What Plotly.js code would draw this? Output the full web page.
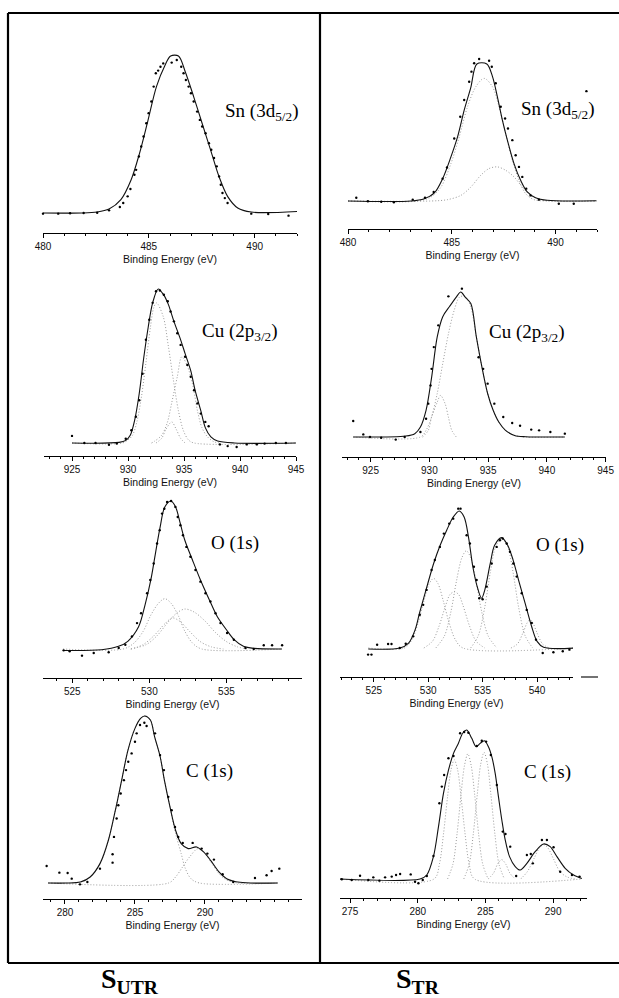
<!DOCTYPE html>
<html>
<head>
<meta charset="utf-8">
<script src="https://cdn.plot.ly/plotly-3.0.1.min.js"></script>
<style>html,body{margin:0;padding:0;background:#fff;}#chart{width:619px;height:998px;}</style>
</head>
<body>
<div id="chart"></div>
<script>
// ---------------- DATA (binding energy in eV, intensity in relative units) ----------------
// Sn 3d5/2, untreated
const snU_dotsX = [480.0,480.72,481.28,481.92,482.56,483.12,483.63,483.79,484.0,484.13,484.32,484.4,484.53,484.64,484.75,484.88,484.99,485.12,485.23,485.33,485.44,485.55,485.68,486.08,486.32,486.53,486.64,486.75,486.88,486.99,487.12,487.28,487.41,487.52,487.68,487.84,487.95,488.08,488.21,488.32,488.4,488.48,488.59,488.72,489.84,490.64,491.6];
const snU_dotsY = [-0.4,-0.4,-0.2,0,0.2,1.7,3.8,6.4,10.6,15.3,24.4,27.5,36,42.4,48.7,57.2,63.6,71,80.5,89,90.7,93.2,95.3,95.8,97.5,93.2,89,84.7,80.5,76.3,71,64.6,59.3,55.1,50.8,44.5,40.3,35,29.7,23.3,18,12.7,9.5,6.4,-0.4,-0.6,-1.7];
const snU_fitX = [480.0,481.84,482.56,483.12,483.68,484.16,484.56,484.96,485.36,485.76,486.03,486.4,486.72,487.12,487.52,487.92,488.32,488.72,489.2,489.84,492.0];
const snU_fitY = [0,0,0.6,2.5,8.5,21,38,59,80.5,94,100,100,90,74,57,40,23,10.6,3.2,0.6,1];

// Sn 3d5/2, treated
const snT_dotsX = [480.4,480.96,481.6,482.21,483.12,483.71,484.13,484.56,484.77,485.12,485.41,485.6,485.84,485.95,486.08,486.32,486.8,486.93,487.12,487.36,487.57,487.71,487.92,488.08,488.24,488.4,488.59,488.8,489.2,490.16,490.88,491.49];
const snT_dotsY = [2.4,-0.2,-0.5,-1,1,2.4,6.6,16.3,24.4,45.6,61.5,73.7,87,94.4,100.5,103.7,102.4,98,85.9,68.8,60.2,52.9,44.4,33.4,24.9,17.6,9,4.1,1,-2,-2,80.2];
const snT_fitX = [480,483.04,483.68,484.16,484.56,484.96,485.28,485.6,485.92,486.21,486.69,486.96,487.2,487.44,487.68,488.0,488.32,488.64,489.04,489.6,491.97];
const snT_fitY = [0,0,1.7,5.9,16.3,32.2,46.8,66.3,83,100,100,91,76,59,44.4,27.3,15.1,6.6,2.4,0.5,0.2];
const snT_c1X = [480,483.36,484.0,484.48,484.96,485.36,485.76,486.16,486.56,486.96,487.28,487.6,487.92,488.24,488.56,488.96,489.6,492];
const snT_c1Y = [0,0,2.9,10.2,27.3,46.8,68.8,83.4,89.5,83.4,68.8,49.3,29.8,15.1,5.4,1,0,0];
const snT_c2X = [480,484.0,484.8,485.44,485.92,486.4,486.8,487.2,487.6,488.0,488.4,488.8,489.28,489.92,492];
const snT_c2Y = [0,0,1,4.1,10.2,18.8,23.7,24.9,22.4,17.6,10.2,4.1,1,0,0];

// Cu 2p3/2, untreated
const cuU_dotsX = [925.0,926.1,927.1,928.3,929.0,929.8,930.3,930.7,931.0,931.3,931.6,931.9,932.2,932.5,932.85,933.2,933.55,933.8,934.1,934.4,934.7,935.1,935.3,935.6,935.9,936.2,936.5,936.9,937.2,938.2,938.9,939.7,940.6,941.5,942.2,943.2,944.1];
const cuU_dotsY = [4.6,0,0,-1.1,-0.4,2.8,8.3,17,27.8,45,67,80,91,98.5,99,96.3,92,85.4,79,71.3,63.7,56,50.7,43,34.3,25.7,19.1,13.7,10.9,-0.9,-2,-2.6,-0.9,-0.9,-0.4,0,0];
const cuU_fitX = [925.0,929.2,929.8,930.2,930.6,931.0,931.4,931.8,932.2,932.7,933.2,933.6,934.1,934.7,935.1,935.6,936.0,936.5,936.9,937.4,938.0,939.5,945.0];
const cuU_fitY = [0,0.4,1.7,5,15,32,55,75,91,100,96,90,79,67,58,47,34,21,10,4,1.3,0,0];
const cuU_c1X = [925.0,929.5,930.0,930.4,930.8,931.2,931.6,932.0,932.3,932.55,933.15,933.6,934.05,934.5,934.95,935.4,935.9,945.0];
const cuU_c1Y = [0,0,2,5,14,30,52,75,88,91,82,63,41,21,8,2,0,0];
const cuU_c2X = [932.1,932.4,933.0,933.5,933.9,934.4,934.8,935.3,935.8,936.2,936.6,937.1,937.7,938.3];
const cuU_c2Y = [0,1.3,5,13,26,43,56,50,37,21,10,4,0.7,0];
const cuU_c3X = [932.5,933.0,933.4,933.9,934.3,934.7,935.1];
const cuU_c3Y = [0,3,9,13.7,9,3,0];

// Cu 2p3/2, treated
const cuT_dotsX = [923.52,924.38,924.95,925.90,927.14,927.90,929.24,929.72,929.91,930.10,930.19,930.38,930.76,931.62,932.77,934.19,934.58,934.96,935.53,936.29,937.05,937.72,938.67,939.34,940.30,941.53];
const cuT_dotsY = [11,1.8,0,-0.5,-1.8,0,3.4,12.6,23,35.6,47,62,77,97,102.3,55,47,36.8,23,13.8,9.7,7.8,5.1,4.6,3.4,2.3];
const cuT_fitX = [923.52,928.00,928.76,929.24,929.72,930.19,930.67,931.14,931.72,932.29,932.67,933.05,933.53,934.00,934.48,934.96,935.43,935.91,936.48,937.25,938.20,941.53];
const cuT_fitY = [0,0.7,2.3,6.9,18.4,41,69,83,90,96.5,100,96.5,92,69,48,30,18.4,10.3,4.6,1.1,0.2,0];
const cuT_c1X = [923.52,929.24,929.72,930.19,930.67,931.14,931.62,932.10,932.57,933.05,933.53,934.00,934.48,934.96,935.43,935.91,936.48,937.25,938.20,941.53];
const cuT_c1Y = [0,0,4.6,13.8,30,50.6,71,87,96.5,97,89.7,69,48,30,18.4,10.3,4.6,1.1,0,0];
const cuT_c2X = [929.43,929.91,930.19,930.67,930.95,931.34,931.62,931.91,932.29];
const cuT_c2Y = [0,4.6,13.8,24,28.7,23,13.8,4.6,0];

// O 1s, untreated
const oU_dotsX = [524.44,524.83,525.63,526.39,527.36,528.01,528.44,528.87,529.2,529.46,529.85,530.06,530.28,530.5,530.67,530.82,530.97,531.15,531.41,531.69,531.84,532.01,532.18,532.4,532.66,532.99,533.31,533.64,533.96,534.29,534.61,535.04,535.48,536.23,536.77,537.42,537.96,538.61];
const oU_dotsY = [-0.9,-1.6,-4.5,-2.7,-2.2,0.7,2.9,8.5,17.5,24.2,37.7,46.6,57.8,71.3,80.3,91.5,94.8,99.3,100,96,89.2,83.6,76.9,69,62.3,53.4,45.5,37.7,32.1,24.2,17.5,10.8,6.3,0.7,0,2.5,2.5,2.5];
const oU_fitX = [524.4,526.9,528.0,528.6,529.3,529.7,530.1,530.4,530.7,531.0,531.4,531.7,532.0,532.3,532.8,533.3,533.9,534.4,535.0,535.5,536.1,536.8,538.6];
const oU_fitY = [-1,-0.5,1.8,5.2,15,29,47,65,82.5,96,100,96,85,73.5,60,47,33,22,13,6.3,1.8,0.4,0];
const oU_c1X = [524.4,528.3,529.0,529.6,530.1,530.6,531.0,531.4,531.9,532.3,532.8,533.4,538.6];
const oU_c1Y = [0,0,4,12,23,31,34,31,22,12,4,0,0];
const oU_c2X = [528.8,529.8,530.5,531.2,531.8,532.3,532.9,533.6,534.3,535.0,535.7,536.4];
const oU_c2Y = [0,3,9,18,24.5,27,25,19,11,5,1.5,0];
const oU_c3X = [528.8,529.6,530.3,531.0,531.5,532.0,532.6,533.3,534.0,534.8];
const oU_c3Y = [0,3,9,17,21,18.5,12,5,1.5,0];

// O 1s, treated
const oT_dotsX = [524.48,524.79,525.31,526.32,526.63,527.39,527.94,528.62,529.23,529.54,529.85,530.31,530.61,531.07,531.44,531.93,532.3,532.76,532.97,533.53,533.83,534.2,534.45,534.69,535.0,535.37,535.83,536.29,536.59,536.84,537.21,537.51,537.82,538.13,538.59,539.05,539.51,539.9,540.52,541.5,542.36,542.97,543.49];
const oT_dotsY = [-4.8,-4.8,2.4,2.9,2.9,0,3.1,8.5,24.2,31.5,42.4,56.9,64.2,73.8,83.5,90.8,94.4,101.7,101.7,82.3,76.3,59.3,49.6,36.3,35.6,44.8,61.7,73.8,78.7,79.9,76.3,70.2,61.7,52.1,40,27.8,18.2,6.1,-3.6,-3.1,-2.4,-1.2,-1.9];
const oT_fitX = [524.5,527.4,528.2,528.8,529.2,529.8,530.5,531.1,531.7,532.3,532.85,533.3,533.7,534.1,534.5,534.9,535.2,535.7,536.1,536.75,537.3,537.8,538.3,538.9,539.5,540.0,540.6,543.5];
const oT_fitY = [-0.7,0,3.6,13.3,25.4,42.4,61.7,75,86,95.6,100,95.6,81,59.3,44.8,36.3,42.4,61.7,75,80.6,75,64.2,49.6,32.7,15.7,4.8,0.5,0];
const oT_c1X = [524.5,527.8,528.5,529.1,529.6,530.1,530.5,530.9,531.4,531.9,532.5,533.2,543.5];
const oT_c1Y = [0,0,6,19,34,47,50.8,47,34,19,6,0,0];
const oT_c2X = [529.6,530.4,531.0,531.6,532.0,532.4,532.8,533.2,533.8,534.4,535.2];
const oT_c2Y = [0,5,16,31,39,41,39,31,16,5,0];
const oT_c3X = [530.7,531.5,532.1,532.6,533.1,533.5,533.9,534.4,534.9,535.5,536.3];
const oT_c3Y = [0,9,27,49,66,71,66,49,27,9,0];
const oT_c4X = [533.9,534.6,535.2,535.7,536.2,536.75,537.3,537.8,538.3,538.9,539.6];
const oT_c4Y = [0,9,30,55,74,80,74,55,30,9,0];
const oT_c5X = [537.6,538.2,538.7,539.1,539.35,539.6,540.0,540.5,541.1];
const oT_c5Y = [0,3,11,18.5,20.6,18.5,11,3,0];

// C 1s, untreated
const cU_dotsX = [278.69,279.6,280.19,280.48,281.07,281.6,282.5,283.4,283.4,283.5,283.69,283.81,283.98,284.21,284.36,284.52,284.76,285.0,285.12,285.36,285.67,285.83,286.43,286.79,287.07,287.38,287.62,287.86,288.09,288.41,289.12,289.76,290.17,290.64,291.26,292.02,293.57,294.4,294.76,295.31];
const cU_dotsY = [10.2,6.2,6,2.6,-0.8,0.6,8.6,17.2,12.2,27.6,38.6,46.6,53.6,61.6,67.6,72.6,77.6,84.6,89.6,94.6,96,94,89.6,76.6,67.6,51.6,43.6,33.6,27.6,24,24,20.6,17.6,14,5.2,0.6,3,4.6,7.2,8.6];
const cU_fitX = [278.8,280.1,281.1,281.8,282.5,283.1,283.6,284.05,284.5,285.0,285.4,285.7,286.1,286.4,286.8,287.1,287.5,287.9,288.3,288.8,289.4,289.9,290.4,291.0,291.55,292.5,295.2];
const cU_fitY = [0,0,0.6,3.6,11.6,25.6,43.6,61.6,79.6,92.6,98.6,100,97.6,87.6,75.6,61.6,45.6,31.6,23.6,20.6,21.6,18.6,13.6,6.6,2.6,0.4,0];
const cU_c1X = [278.8,281.1,281.8,282.5,283.1,283.6,284.05,284.5,285.0,285.4,285.7,286.1,286.4,286.8,287.1,287.5,287.9,288.3,288.6,289.0,289.6,295.2];
const cU_c1Y = [0,0.6,3.6,11.6,25.6,43.6,61.6,79.6,92.6,98.6,100,97.6,87.6,75.6,61.6,45.6,29.6,17.6,8.6,2.6,0,0];
const cU_c2X = [278.8,287.4,287.9,288.4,288.9,289.5,290.0,290.5,291.0,291.5,292.3,295.2];
const cU_c2Y = [0,0,3.6,9.6,15.6,20.6,17.6,11.6,5.6,2,0,0];

// C 1s, treated
const cT_dotsX = [274.39,275.12,275.74,276.35,276.72,277.17,277.59,278.08,278.4,278.7,279.48,279.8,280.05,280.37,280.67,281.16,281.6,281.78,281.95,282.27,282.64,283.13,283.43,283.74,284.36,284.73,285.05,285.4,285.84,286.28,286.48,286.83,287.27,288.06,288.35,288.5,289.17,289.54,290.03,290.52,291.39,291.95];
const cT_dotsY = [-0.2,-0.7,2.2,-0.7,1.1,-1.1,1.1,1.6,2.7,3.4,3.1,-1.8,-2.9,-0.7,2,15.4,50.8,62,69.8,81,82.6,97.8,98.7,98.2,89.3,92.8,92.2,83.2,63.1,31.8,30.2,21.7,2,16.1,16.8,10.5,26.2,26.2,21.3,4.9,2.7,1.6];
const cT_fitX = [274.26,280.17,280.67,281.16,281.53,281.9,282.27,282.64,283.0,283.33,283.62,283.99,284.31,284.61,284.93,285.22,285.47,285.72,285.96,286.21,286.46,286.78,287.2,287.56,288.06,288.67,289.29,289.78,290.28,290.89,291.51,292.12];
const cT_fitY = [0,0,2.7,15,35,57.5,73,84.3,91,98,100,94.4,88.8,91,92.8,88.8,82.1,70.9,55.3,39.6,26.2,15,8.3,6,10.5,18.3,23.5,21.7,15,7.2,2.7,0.4];
const cT_c1X = [274.26,281.2,281.6,281.9,282.2,282.45,282.7,282.95,283.2,283.5,283.8,284.2,292.12];
const cT_c1Y = [0,0,10,30,55,73,80,73,55,30,10,0,0];
const cT_c2X = [282.2,282.6,282.9,283.2,283.45,283.7,283.95,284.2,284.5,284.8,285.2];
const cT_c2Y = [0,10,30,57,76,84,76,57,30,10,0];
const cT_c3X = [283.4,283.8,284.1,284.4,284.65,284.9,285.15,285.4,285.7,286.0,286.4];
const cT_c3Y = [0,10,30,57,77,85,77,57,30,10,0];
const cT_c4X = [285.2,285.6,285.9,286.2,286.5,286.8,287.2];
const cT_c4Y = [0,4,10,13,10,4,0];
const cT_c5X = [287.6,288.1,288.6,289.0,289.3,289.6,290.0,290.5,291.0,291.6];
const cT_c5Y = [0,5,14,21,23,21,14,5,1.5,0];

// Tick labels shown on the untreated C 1s axis
const cU_tickVals = [280, 285, 290];

// Text
const panelLabels = ['Sn (3d<sub>5/2</sub>)','Sn (3d<sub>5/2</sub>)','Cu (2p<sub>3/2</sub>)','Cu (2p<sub>3/2</sub>)','O (1s)','O (1s)','C (1s)','C (1s)'];
const axisTitle = 'Binding Energy (eV)';
const sampleLabels = ['<b>S<sub>UTR</sub></b>','<b>S<sub>TR</sub></b>'];

// ---------------- LAYOUT (pixel geometry of each panel) ----------------
const W = 619, H = 998;
const geom = [
  {xpx:[43,297],      xr:[480,492],        axisY:233, baseY:213, peakY:56,  lx:261, ly:112},
  {xpx:[348,597],     xr:[480,492],        axisY:229, baseY:201, peakY:64,  lx:557, ly:110},
  {xpx:[44,296],      xr:[922.5,945],      axisY:456, baseY:443, peakY:289, lx:240, ly:332},
  {xpx:[342.4,605.6], xr:[922.6,945],      axisY:457, baseY:437, peakY:292, lx:527, ly:333},
  {xpx:[43,302],      xr:[523.1,539.9],    axisY:678, baseY:649, peakY:501, lx:235, ly:543},
  {xpx:[340,573],     xr:[521.9,543.3],    axisY:677, baseY:648, peakY:511, lx:560, ly:545},
  {xpx:[43,302],      xr:[278.43,296.93],  axisY:899, baseY:883, peakY:716, lx:210, ly:771, tickvals:cU_tickVals},
  {xpx:[340,587],     xr:[274.26,292.5],   axisY:898, baseY:879, peakY:730, lx:547, ly:772}
];

const series = [
  {d:[snU_dotsX,snU_dotsY], f:[snU_fitX,snU_fitY], c:[]},
  {d:[snT_dotsX,snT_dotsY], f:[snT_fitX,snT_fitY], c:[[snT_c1X,snT_c1Y],[snT_c2X,snT_c2Y]]},
  {d:[cuU_dotsX,cuU_dotsY], f:[cuU_fitX,cuU_fitY], c:[[cuU_c1X,cuU_c1Y],[cuU_c2X,cuU_c2Y],[cuU_c3X,cuU_c3Y]]},
  {d:[cuT_dotsX,cuT_dotsY], f:[cuT_fitX,cuT_fitY], c:[[cuT_c1X,cuT_c1Y],[cuT_c2X,cuT_c2Y]]},
  {d:[oU_dotsX,oU_dotsY], f:[oU_fitX,oU_fitY], c:[[oU_c1X,oU_c1Y],[oU_c2X,oU_c2Y],[oU_c3X,oU_c3Y]]},
  {d:[oT_dotsX,oT_dotsY], f:[oT_fitX,oT_fitY], c:[[oT_c1X,oT_c1Y],[oT_c2X,oT_c2Y],[oT_c3X,oT_c3Y],[oT_c4X,oT_c4Y],[oT_c5X,oT_c5Y]]},
  {d:[cU_dotsX,cU_dotsY], f:[cU_fitX,cU_fitY], c:[[cU_c1X,cU_c1Y],[cU_c2X,cU_c2Y]]},
  {d:[cT_dotsX,cT_dotsY], f:[cT_fitX,cT_fitY], c:[[cT_c1X,cT_c1Y],[cT_c2X,cT_c2Y],[cT_c3X,cT_c3Y],[cT_c4X,cT_c4Y],[cT_c5X,cT_c5Y]]}
];

const traces = [];
const layout = {
  width: W, height: H,
  margin: {l:0, r:0, t:0, b:0},
  paper_bgcolor: '#fff', plot_bgcolor: 'rgba(0,0,0,0)',
  showlegend: false,
  font: {family: 'Liberation Sans, Arial, sans-serif', color: '#000'},
  annotations: [], shapes: []
};

geom.forEach((g, i) => {
  const n = i + 1;
  const xa = 'x' + (n === 1 ? '' : n), ya = 'y' + (n === 1 ? '' : n);
  const s = series[i];
  s.c.forEach(c => traces.push({x:c[0], y:c[1], xaxis:xa, yaxis:ya, mode:'lines', type:'scatter',
    line:{color:'#9a9a9a', width:1, dash:'1px,2px', shape:'spline', smoothing:0.9}, hoverinfo:'skip', cliponaxis:false}));
  traces.push({x:s.f[0], y:s.f[1], xaxis:xa, yaxis:ya, mode:'lines', type:'scatter',
    line:{color:'#111', width:1.1, shape:'spline', smoothing:0.9}, hoverinfo:'skip', cliponaxis:false});
  traces.push({x:s.d[0], y:s.d[1], xaxis:xa, yaxis:ya, mode:'markers', type:'scatter',
    marker:{color:'#000', size:2.4}, cliponaxis:false, hoverinfo:'skip'});

  const sc = (g.baseY - g.peakY) / 100;
  const ymin = -(g.axisY - g.baseY) / sc;
  const topPx = g.peakY - 14;
  const ymax = 100 + 14 / sc;
  const xaxis = {
    domain: [g.xpx[0] / W, g.xpx[1] / W], range: g.xr, anchor: ya,
    showline: true, linecolor: '#000', linewidth: 1.1, mirror: false,
    ticks: 'outside', ticklen: 4, tickwidth: 1, tickcolor: '#000',
    tick0: 0, dtick: 5, showgrid: false, zeroline: false,
    minor: {dtick: 1, ticks: 'outside', ticklen: 2, tickcolor: '#000', showgrid: false},
    tickfont: {family: 'Liberation Sans, Arial, sans-serif', size: 10, color: '#111'},
    title: {text: axisTitle, font: {family: 'Liberation Sans, Arial, sans-serif', size: 10.5, color: '#111'}, standoff: 4},
    automargin: false, fixedrange: true
  };
  if (g.tickvals) { xaxis.tickmode = 'array'; xaxis.tickvals = g.tickvals; }
  layout['xaxis' + (n === 1 ? '' : n)] = xaxis;
  layout['yaxis' + (n === 1 ? '' : n)] = {
    domain: [1 - g.axisY / H, 1 - topPx / H], range: [ymin, ymax], anchor: xa,
    visible: false, fixedrange: true
  };
  layout.annotations.push({text: panelLabels[i], xref:'paper', yref:'paper', x: g.lx / W, y: 1 - g.ly / H,
    xanchor:'center', yanchor:'middle', showarrow:false,
    font:{family:'Liberation Serif, Times New Roman, serif', size:19, color:'#000'}});
});

// sample labels
[[sampleLabels[0], 130], [sampleLabels[1], 418]].forEach(([t, x]) => {
  layout.annotations.push({text: t, xref:'paper', yref:'paper', x: x / W, y: 1 - 980 / H, xanchor:'center', yanchor:'middle',
    showarrow:false, font:{family:'Liberation Serif, Times New Roman, serif', size:28, color:'#000'}});
});

// frame
const lineSt = {color:'#000', width:2.2};
layout.shapes.push({type:'line', xref:'paper', yref:'paper', x0:8/W, x1:1.02, y0:1-13/H, y1:1-13/H, line:lineSt});
layout.shapes.push({type:'line', xref:'paper', yref:'paper', x0:8/W, x1:1.02, y0:1-963/H, y1:1-963/H, line:lineSt});
layout.shapes.push({type:'line', xref:'paper', yref:'paper', x0:8/W, x1:8/W, y0:1-13/H, y1:1-963/H, line:lineSt});
layout.shapes.push({type:'line', xref:'paper', yref:'paper', x0:320/W, x1:320/W, y0:1-13/H, y1:1-963/H, line:lineSt});
// short detached axis segment right of the O(1s) treated axis
layout.shapes.push({type:'line', xref:'paper', yref:'paper', x0:581/W, x1:598/W, y0:1-677/H, y1:1-677/H, line:{color:'#000', width:1.1}});

Plotly.newPlot('chart', traces, layout, {staticPlot:true, displayModeBar:false});
</script>
</body>
</html>
